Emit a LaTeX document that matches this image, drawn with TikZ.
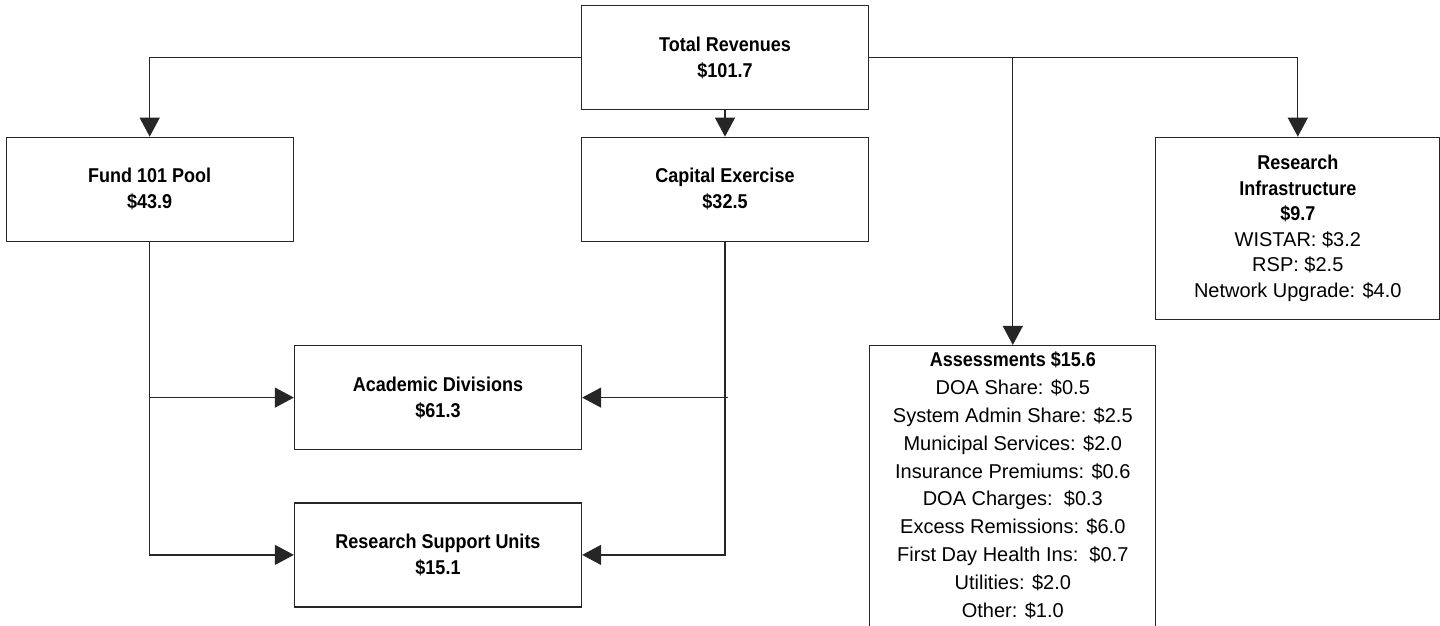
\documentclass[tikz,border=0pt]{standalone}
\usepackage{fontspec}
\setmainfont{Liberation Sans}
\newfontfamily\headfont{Liberation Sans}[FakeStretch=0.9]
\usetikzlibrary{arrows.meta, positioning}

\begin{document}
\begin{tikzpicture}[
    node distance=26.5pt and 287pt,
    box/.style={rectangle, draw=black!85, line width=1.3pt, minimum width=287pt,
                minimum height=104pt, inner sep=0pt, align=center,
                font=\headfont\bfseries\fontsize{20}{26}\selectfont},
    listbox/.style={box, minimum width=286pt, inner ysep=6.5pt},
    arr/.style={-{Triangle[length=19pt, width=20pt]}, line width=1.3pt, draw=black!85}
]
\clip (0,0) rectangle (1440pt,-626pt);

\node[box] (total) at (725pt,-57.5pt) {Total Revenues\\\$101.7};
\node[box, below=of total] (capital) {Capital Exercise\\\$32.5};
\node[box, left=of capital] (fund) {Fund 101 Pool\\\$43.9};

\node[box, below right=103pt and 0pt of fund.south east, anchor=north west] (acad) {Academic Divisions\\\$61.3};
\node[box, below=52pt of acad] (rsu) {Research Support Units\\\$15.1};

\node[listbox, minimum width=284pt, minimum height=182pt, anchor=north west,
      below right=0pt and 286pt of capital.north east,
      font=\fontsize{20}{25.6}\selectfont] (infra)
     {{\headfont\bfseries Research}\\{\headfont\bfseries Infrastructure}\\{\headfont\bfseries \$9.7}\\
      WISTAR: \$3.2\\RSP: \$2.5\\Network Upgrade: \$4.0};

\node[listbox, anchor=north west, below right=103pt and 0pt of capital.south east,
      text depth=20pt, font=\fontsize{20}{27.8}\selectfont] (assess)
     {{\headfont\bfseries Assessments \$15.6}\\DOA Share: \$0.5\\System Admin Share: \$2.5\\
      Municipal Services: \$2.0\\Insurance Premiums: \$0.6\\DOA Charges:\ \ \$0.3\\
      Excess Remissions: \$6.0\\First Day Health Ins:\ \ \$0.7\\Utilities: \$2.0\\Other: \$1.0};

\draw[arr] (total.west) -| (fund.north);
\draw[arr] (total.south) -- (capital.north);
\draw[arr] (total.east) -| (infra.north);
\draw[arr] (total.east -| assess.north) -- (assess.north);

\draw[arr] (fund.south) |- (rsu.west);
\draw[arr] (fund.south |- acad.west) -- (acad.west);
\draw[arr] (capital.south) |- (rsu.east);
\draw[arr] ([xshift=3pt]capital.south |- acad.east) -- (acad.east);
\end{tikzpicture}
\end{document}
